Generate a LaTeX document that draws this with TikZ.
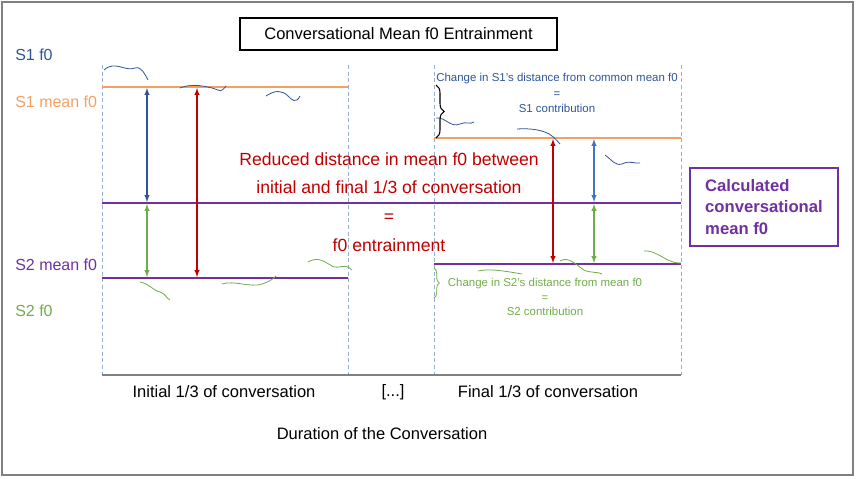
\documentclass[tikz,border=0pt]{standalone}
\usepackage{fontspec}
\setmainfont{Liberation Sans}
\usetikzlibrary{decorations.pathreplacing}
\definecolor{sblue}{RGB}{47,85,151}
\definecolor{sorange}{RGB}{244,160,100}
\definecolor{spurple}{RGB}{112,48,160}
\definecolor{sgreen}{RGB}{112,173,71}
\definecolor{sred}{RGB}{192,0,0}
\definecolor{arblue}{RGB}{68,114,196}
\definecolor{gridblue}{RGB}{150,175,215}
\tikzset{
  guide/.style={color=gridblue, dash pattern=on 3pt off 2pt, line width=0.6pt},
  twoway/.style={<->, >=latex, line width=0.8pt},
  lbl/.style={anchor=west, inner sep=0.75pt, font=\fontsize{12}{14}\selectfont},
  axislbl/.style={inner sep=0.75pt, font=\fontsize{12.4}{14}\selectfont},
}
\begin{document}
\begin{tikzpicture}[x=0.75pt,y=0.75pt,yscale=-1,xscale=1]
\useasboundingbox (0,0) rectangle (856,478);

%Shape: Rectangle [outer frame]
\draw [color=gray, line width=0.8pt] (2,2) -- (853,2) -- (853,475) -- (2,475) -- cycle ;
%Shape: Rectangle [title]
\draw [line width=0.8pt] (240,18) -- (557,18) -- (557,50) -- (240,50) -- cycle ;
\draw (398.5,34) node [axislbl] (title) {Conversational Mean f0 Entrainment};

%Shape: guides
\draw [guide] (102,65) -- (102,375) ;
\draw [guide] (348,65) -- (348,375) ;
\draw [guide] (434,65) -- (434,375) ;
\draw [guide] (681,65) -- (681,375) ;
\draw [color=gray, line width=0.8pt] (102,375) -- (681,375) ;

%Shape: mean lines
\draw [color=sorange, line width=1pt] (102,87) -- (348,87) ;
\draw [color=sorange, line width=1pt] (434,138) -- (681,138) ;
\draw [color=spurple, line width=1.6pt] (102,203) -- (681,203) ;
\draw [color=spurple, line width=0.8pt] (102,278) -- (348,278) ;
\draw [color=spurple, line width=0.8pt] (434,264) -- (681,264) ;

%Shape: arrows
\draw [twoway, color=sblue] (147,88) -- (147,202) ;
\draw [twoway, color=sgreen] (147,204) -- (147,277) ;
\draw [twoway, color=sred] (197,88) -- (197,277) ;
\draw [twoway, color=sred] (553,139) -- (553,263) ;
\draw [twoway, color=arblue] (594,139) -- (594,202) ;
\draw [twoway, color=sgreen] (594,204) -- (594,263) ;

%Shape: f0 traces
\draw [color=sblue, line width=0.6pt] (104,70) .. controls (115,60) and (125,72) .. (135,68) .. controls (142,66) and (145,75) .. (148,80) ;
\draw [color=sblue, line width=0.6pt] (180,88) .. controls (190,84) and (200,85) .. (212,88) .. controls (222,91) and (220,93) .. (226,86) ;
\draw [color=sblue, line width=0.6pt] (266,96) .. controls (275,90) and (282,90) .. (288,96) .. controls (292,100) and (296,104) .. (300,96) ;
\draw [color=sblue, line width=0.6pt] (436,118) .. controls (446,117) and (450,128) .. (460,124) .. controls (466,121) and (470,125) .. (474,122) ;
\draw [color=sblue, line width=0.6pt] (517,129) .. controls (530,128) and (545,130) .. (552,136) .. controls (556,139) and (558,142) .. (560,144) ;
\draw [color=sblue, line width=0.6pt] (605,155) .. controls (612,160) and (615,166) .. (622,164) .. controls (630,160) and (634,164) .. (640,163) ;
\draw [color=sgreen, line width=0.6pt] (140,282) .. controls (150,284) and (152,290) .. (160,292) .. controls (166,294) and (166,298) .. (170,300) ;
\draw [color=sgreen, line width=0.6pt] (222,284) .. controls (235,280) and (250,288) .. (262,284) .. controls (268,282) and (272,280) .. (276,276) ;
\draw [color=sgreen, line width=0.6pt] (308,262) .. controls (318,256) and (325,262) .. (332,266) .. controls (340,270) and (344,262) .. (352,270) ;
\draw [color=sgreen, line width=0.6pt] (478,271) .. controls (490,268) and (510,272) .. (522,274) ;
\draw [color=sgreen, line width=0.6pt] (560,261) .. controls (568,256) and (575,264) .. (584,270) .. controls (590,273) and (600,272) .. (602,274) ;
\draw [color=sgreen, line width=0.6pt] (644,251) .. controls (652,250) and (660,256) .. (668,260) .. controls (674,263) and (678,263) .. (681,263) ;

%Shape: braces
\draw [decorate, decoration={brace, amplitude=6pt}, line width=0.8pt] (436,85) -- (436,138) ;
\draw [decorate, decoration={brace, amplitude=4pt}, color=sgreen, line width=0.6pt] (434,268) -- (434,298) ;

% Text Node
\draw (14,55) node [lbl, color=sblue] (sonef) {S1 f0};
\draw (14,102) node [lbl, color=sorange] (sonemean) {S1 mean f0};
\draw (14,265) node [lbl, color=spurple] (stwomean) {S2 mean f0};
\draw (14,311) node [lbl, color=sgreen] (stwof) {S2 f0};

% Text Node
\draw (389,202) node [align=center, color=sred, inner sep=0.75pt, font=\fontsize{13.2}{21.5}\selectfont] (entrain) {Reduced distance in mean f0 between\\initial and final 1/3 of conversation\\=\\f0 entrainment};

% Text Node
\draw [color=spurple, line width=0.8pt] (690,168) -- (838,168) -- (838,246) -- (690,246) -- cycle ;
\draw (764,207) node [align=left, color=spurple, inner sep=0.75pt, font=\bfseries\fontsize{12.5}{16}\selectfont] (calc) {Calculated\\conversational\\mean f0};

% Text Node
\draw (557,93) node [align=center, color=sblue, inner sep=0.75pt, font=\fontsize{8.6}{11.5}\selectfont] (sonecontr) {Change in S1's distance from common mean f0\\=\\S1 contribution};
\draw (545,297) node [align=center, color=sgreen, inner sep=0.75pt, font=\fontsize{8.6}{11}\selectfont] (stwocontr) {Change in S2's distance from mean f0\\=\\S2 contribution};

% Text Node
\draw (224,392) node [axislbl] (initial) {Initial 1/3 of conversation};
\draw (393,392) node [axislbl] (dots) {[...]};
\draw (548,392) node [axislbl] (final) {Final 1/3 of conversation};
\draw (382,434) node [axislbl] (duration) {Duration of the Conversation};

\end{tikzpicture}
\end{document}
